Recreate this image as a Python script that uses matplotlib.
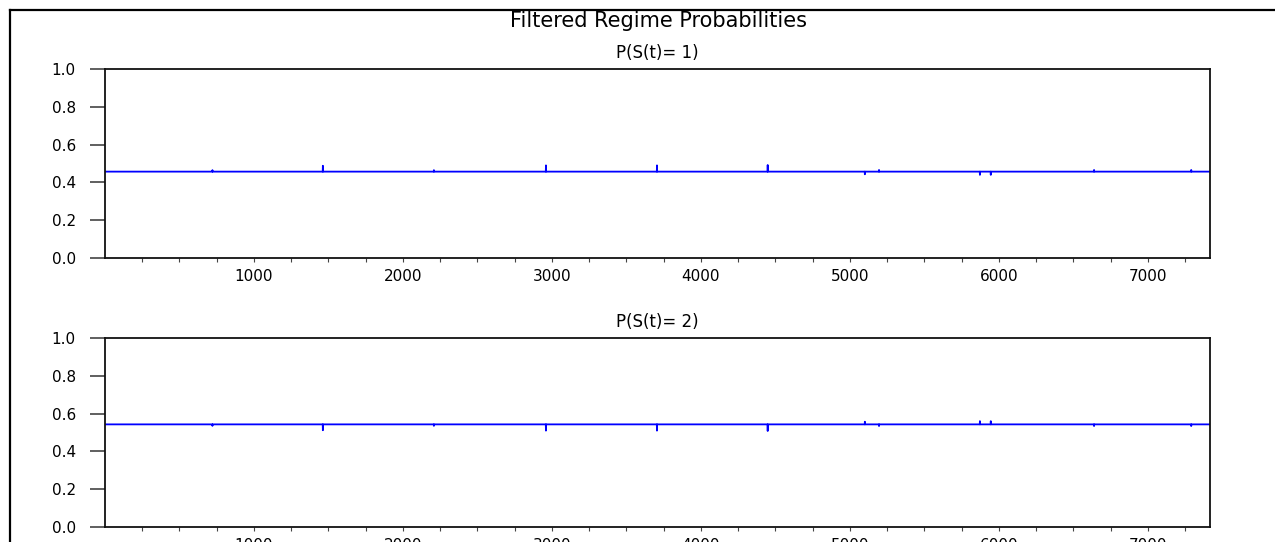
"""Filtered regime probabilities (two-state Markov switching), EViews-style chart."""

import matplotlib
matplotlib.use("Agg")
import matplotlib.pyplot as plt
import numpy as np
from matplotlib.lines import Line2D

N_OBS = 7416
BASE_P1 = 0.457

# observations where the filtered probability of regime 1 departs from its level
SPIKE_OBS = [722, 1463, 2208, 2960, 3705, 4448, 5100, 5195, 5872, 5945, 6638, 7290]
SPIKE_P1 = [0.465, 0.488, 0.465, 0.490, 0.490, 0.492, 0.443, 0.466, 0.440, 0.440, 0.466, 0.466]

TITLE = "Filtered Regime Probabilities"
PANEL_TITLES = ["P(S(t)= 1)", "P(S(t)= 2)"]
Y_TICKS = [0.0, 0.2, 0.4, 0.6, 0.8, 1.0]
X_MAJOR = [1000, 2000, 3000, 4000, 5000, 6000, 7000]

W, H = 1275, 542
FONT = "DejaVu Sans"


def series(base, obs, vals):
    # piecewise: flat level with single-observation excursions
    x, y = [1], [base]
    for o, v in zip(obs, vals):
        x += [o - 1, o, o + 1]
        y += [base, v, base]
    x.append(N_OBS)
    y.append(base)
    return np.array(x), np.array(y)


def style_axis(ax):
    ax.set_xlim(1, N_OBS)
    ax.set_ylim(0, 1)
    ax.set_yticks(Y_TICKS)
    ax.set_yticklabels([f"{v:.1f}" for v in Y_TICKS], fontsize=11, family=FONT)
    ax.set_xticks(np.arange(250, N_OBS, 250), minor=True)
    ax.set_xticks(X_MAJOR)
    ax.set_xticklabels([str(v) for v in X_MAJOR], fontsize=11, family=FONT)
    ax.tick_params(axis="y", direction="out", length=11, width=1.2, color="#444444", pad=10)
    ax.tick_params(axis="x", which="both", direction="out", length=3, width=0.8,
                   color="#444444", pad=5)
    for s in ax.spines.values():
        s.set_linewidth(1.3)
        s.set_color("#111111")


def main():
    fig = plt.figure(figsize=(W / 100, H / 100), dpi=100)
    fig.patch.set_facecolor("white")

    left, width = 105 / W, (1210 - 105) / W
    height = 189 / H
    ax1 = fig.add_axes([left, (H - 258) / H, width, height])
    ax2 = fig.add_axes([left, (H - 527) / H, width, height])

    x1, p1 = series(BASE_P1, SPIKE_OBS, SPIKE_P1)
    p2 = 1.0 - p1

    ax1.plot(x1, p1, color="#0000ff", lw=1.3)
    ax2.plot(x1, p2, color="#0000ff", lw=1.3)

    for ax, t in zip((ax1, ax2), PANEL_TITLES):
        style_axis(ax)
        ax.set_title(t, fontsize=12, family=FONT, pad=8)

    fig.text(658 / W, 1 - 21 / H, TITLE, ha="center", va="center", fontsize=15, family=FONT)

    # outer frame (extends past the right and bottom edges of the capture)
    fig.add_artist(Line2D([10 / W, 1.0], [1 - 10 / H, 1 - 10 / H], color="black", lw=1.6,
                          transform=fig.transFigure))
    fig.add_artist(Line2D([10 / W, 10 / W], [0.0, 1 - 10 / H], color="black", lw=1.6,
                          transform=fig.transFigure))

    fig.savefig("out.png", dpi=100)
    plt.close(fig)


if __name__ == "__main__":
    main()
